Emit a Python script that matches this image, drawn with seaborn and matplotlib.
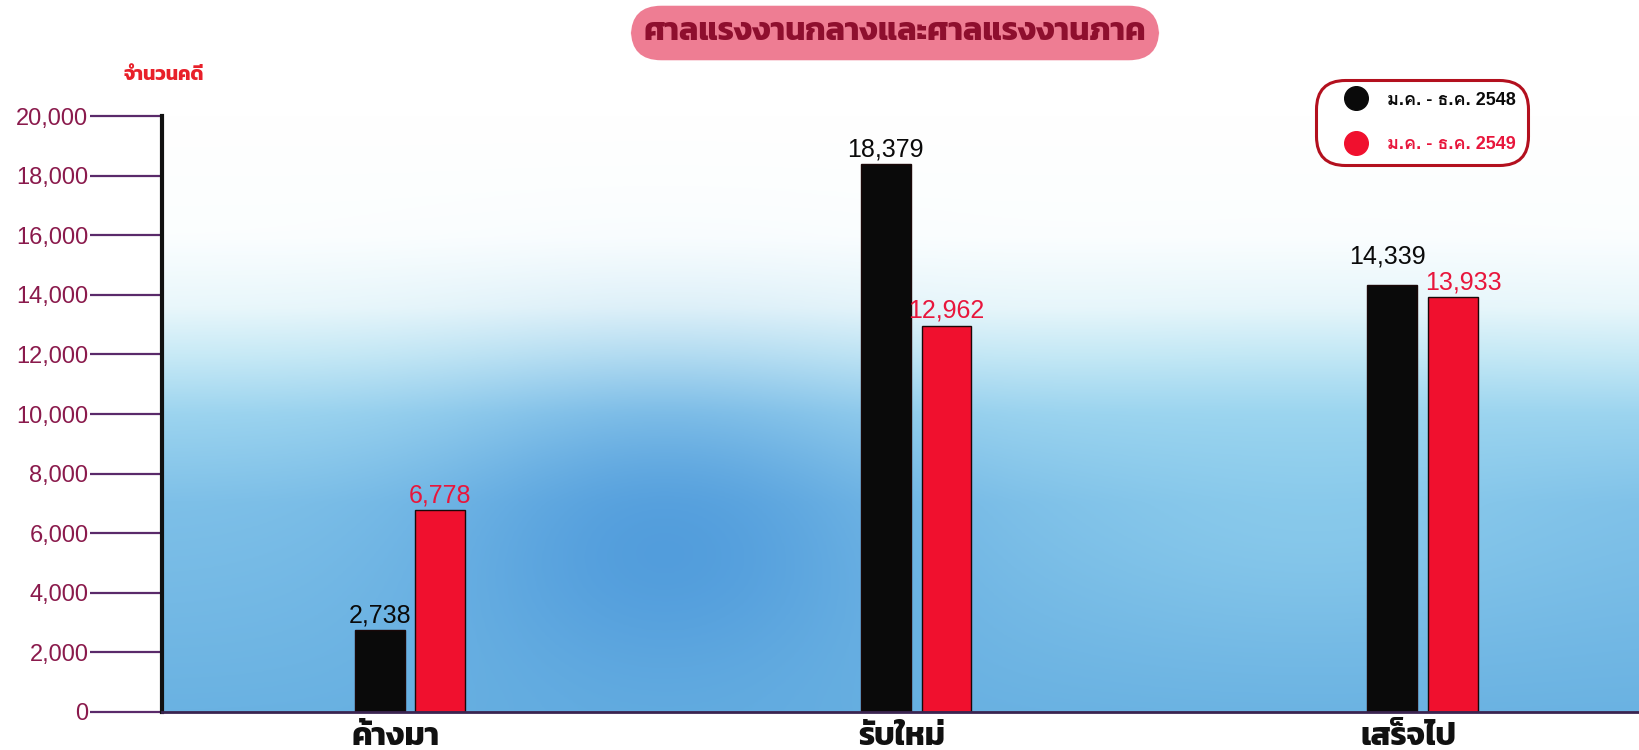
import matplotlib
matplotlib.use("Agg")
import numpy as np
import pandas as pd
import matplotlib.pyplot as plt
import seaborn as sns
from matplotlib.lines import Line2D
from matplotlib.colors import to_rgb
from matplotlib.transforms import ScaledTranslation

categories = ["ค้างมา", "รับใหม่", "เสร็จไป"]
periods = ["ม.ค. - ธ.ค. 2548", "ม.ค. - ธ.ค. 2549"]
values_2548 = [2738, 18379, 14339]
values_2549 = [6778, 12962, 13933]
yticks = [0, 2000, 4000, 6000, 8000, 10000, 12000, 14000, 16000, 18000, 20000]

title = "ศาลแรงงานกลางและศาลแรงงานภาค"
ylabel = "จำนวนคดี"

BLACK = "#0a0a0a"
RED = "#f0102e"
RED_TXT = "#e8163c"

df = pd.DataFrame({
    "cat": categories * 2,
    "period": [periods[0]] * 3 + [periods[1]] * 3,
    "value": values_2548 + values_2549,
})

sns.set_style("white")
plt.rcParams["font.family"] = ["Liberation Sans", "Kanit", "Loma", "DejaVu Sans"]
THAI = ["Kanit", "Loma", "DejaVu Sans"]

fig = plt.figure(figsize=(16.4, 7.5), dpi=100)
ax = fig.add_axes([162 / 1640, 38 / 750, 1 - 162 / 1640, (712 - 116) / 750])

sns.barplot(data=df, x="cat", y="value", hue="period", order=categories,
            hue_order=periods, palette=[BLACK, RED], width=0.24, gap=0.18,
            edgecolor="#1a0808", linewidth=1, saturation=1, legend=False, ax=ax)

ax.set_xlim(-0.49, 2.43)
ax.set_ylim(0, 20000)

# background wash: white on top, blue towards the bottom
x0, x1 = ax.get_xlim()
ny, nx = 240, 320
fy = np.linspace(0, 1, ny)
fx = np.linspace(0, 1, nx)
stops = [0.0, 0.35, 0.5, 0.6, 0.68, 0.8, 1.0]
cols = [to_rgb(c) for c in ["#6ab2e2", "#7ec0e8", "#9cd4ef", "#c8eaf6",
                            "#e9f7fb", "#fbfeff", "#ffffff"]]
img = np.zeros((ny, nx, 3))
for k in range(3):
    prof = np.interp(fy, stops, [c[k] for c in cols])
    img[:, :, k] = prof[:, None]
dark = np.exp(-((fx[None, :] - 0.34) ** 2) / 0.025 - ((fy[:, None] - 0.28) ** 2) / 0.07)
light = np.exp(-((fx[None, :] - 0.78) ** 2) / 0.03 - ((fy[:, None] - 0.35) ** 2) / 0.05)
deep = np.array(to_rgb("#4290d8"))
cyan = np.array(to_rgb("#9ad8f0"))
for k in range(3):
    img[:, :, k] = img[:, :, k] * (1 - 0.7 * dark) + deep[k] * 0.7 * dark
    img[:, :, k] = img[:, :, k] * (1 - 0.4 * light) + cyan[k] * 0.4 * light
ax.imshow(np.clip(img, 0, 1), extent=[x0, x1, 0, 20000], origin="lower",
          aspect="auto", zorder=-1)

labels = []
for cont, col in zip(ax.containers, [BLACK, RED_TXT]):
    labels.append(ax.bar_label(cont, labels=[f"{v:,.0f}" for v in cont.datavalues],
                               color=col, fontsize=18, padding=2))
# the two labels of the last group sit close: lift the black one, nudge the red one
labels[0][2].xyann = (-3, 12)
labels[1][2].xyann = (8, 2)

ax.set_yticks(yticks)
ax.set_yticklabels([f"{v:,}" for v in yticks], fontsize=17, color="#8a1a4c")
ax.tick_params(axis="y", length=52, width=1.6, color="#5a2a6a", pad=1, left=True)
ax.tick_params(axis="x", length=0, pad=8)
shift = ScaledTranslation(-14 / 100, 0, fig.dpi_scale_trans)
for lab in ax.get_xticklabels():
    lab.set_family(THAI)
    lab.set_fontsize(23)
    lab.set_fontweight("bold")
    lab.set_color("#111111")
    lab.set_transform(lab.get_transform() + shift)
ax.set_xlabel("")
ax.set_ylabel("")

for s in ["top", "right"]:
    ax.spines[s].set_visible(False)
ax.spines["left"].set_linewidth(3)
ax.spines["left"].set_color("#111111")
ax.spines["bottom"].set_linewidth(2)
ax.spines["bottom"].set_color("#3a2450")

fig.text(164 / 1640, 1 - 76 / 750, ylabel, color="#e8202a", fontsize=14,
         fontweight="bold", family=THAI, ha="center", va="center")

fig.text(895 / 1640, 1 - 33 / 750, title, color="#8e0f2e", fontsize=23,
         fontweight="bold", family=THAI, ha="center", va="center",
         bbox=dict(boxstyle="round,pad=0.4,rounding_size=0.95",
                   facecolor="#ee7d93", edgecolor="none"))

handles = [Line2D([], [], marker="o", linestyle="", markersize=17,
                  markerfacecolor=c, markeredgecolor=c) for c in [BLACK, RED]]
leg = fig.legend(handles, periods, loc="upper left",
                 bbox_to_anchor=(1316 / 1640, 1 - 80 / 750),
                 frameon=True, handlelength=3.1, handletextpad=0.2,
                 labelspacing=1.5, borderpad=0.65, borderaxespad=0,
                 fancybox=True, prop={"family": ["Liberation Sans", "Loma", "Kanit"],
                                      "weight": "bold", "size": 13})
frame = leg.get_frame()
frame.set_edgecolor("#b3101e")
frame.set_linewidth(2.2)
frame.set_facecolor("white")
frame.set_alpha(1)
frame.set_boxstyle("round,pad=0,rounding_size=1.6")
for txt, c in zip(leg.get_texts(), [BLACK, RED_TXT]):
    txt.set_color(c)

fig.savefig("out.png", dpi=100)
